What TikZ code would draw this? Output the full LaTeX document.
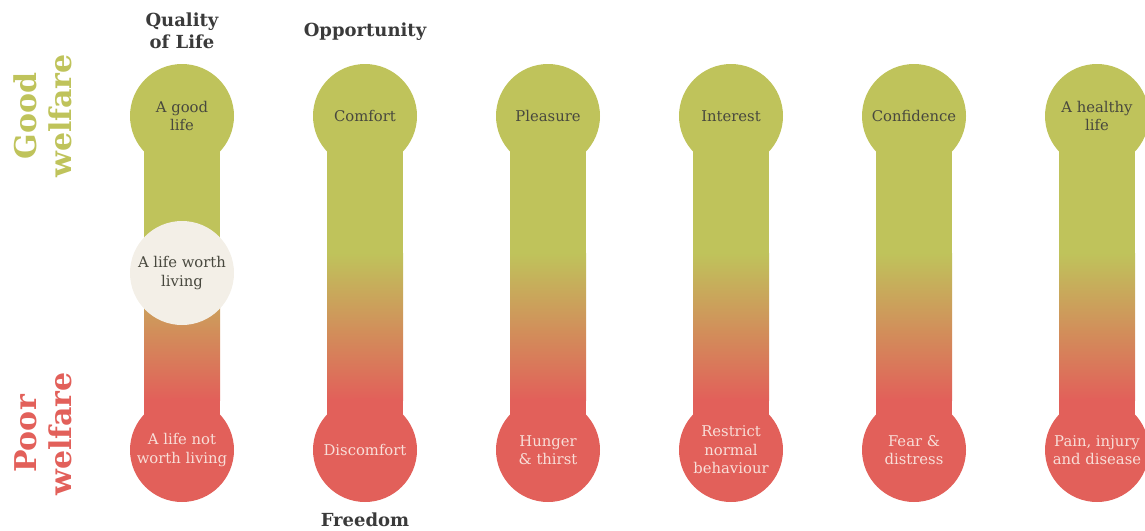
\documentclass[tikz,border=0pt]{standalone}
\usepackage{fontspec}
\setmainfont{DejaVu Serif}
\usepackage{tikz}
\usetikzlibrary{calc,positioning}
\pgfdeclarelayer{background}
\pgfsetlayers{background,main}

\definecolor{goodgreen}{RGB}{191,195,91}
\definecolor{poorred}{RGB}{226,96,90}
\definecolor{cream}{RGB}{243,239,231}
\definecolor{inkgrey}{RGB}{72,72,62}
\definecolor{headgrey}{RGB}{58,58,58}
\definecolor{paletext}{RGB}{248,222,216}

\begin{document}
\begin{tikzpicture}[x=1pt,y=-1pt,
  ball/.style={circle,minimum size=104pt,inner sep=0pt,align=center,
    font=\fontsize{14.8}{18.5}\selectfont},
  goodball/.style={ball,fill=goodgreen,text=inkgrey},
  poorball/.style={ball,fill=poorred,text=paletext},
  midball/.style={ball,fill=cream,text=inkgrey},
  heading/.style={align=center,text=headgrey,font=\fontsize{18}{22}\selectfont\bfseries},
  sidelabel/.style={rotate=90,align=center,font=\fontsize{30}{35}\selectfont\bfseries}]

  \useasboundingbox (0,0) rectangle (1145,530);
  \clip (0,0) rectangle (1145,530);

  % the six scales, good end on top, poor end below
  \foreach \x/\good/\poor [count=\i] in {
      182/{A good\\life}/{A life not\\worth living},
      365/Comfort/Discomfort,
      548/Pleasure/{Hunger\\\& thirst},
      731/Interest/{Restrict\\normal\\behaviour},
      914/Confidence/{Fear \&\\distress},
      1097/{A healthy\\life}/{Pain, injury\\and disease}}
  {
    \node[goodball] (good\i) at (\x,116) {\good};
    \node[poorball] (poor\i) at (\x,450) {\poor};
    \begin{pgfonlayer}{background}
      \fill[goodgreen] ($(good\i.center)+(-38,0)$) rectangle ($(good\i.center)+(38,138)$);
      \shade[top color=goodgreen,bottom color=poorred]
        ($(good\i.center)+(-38,137)$) rectangle ($(poor\i.center)+(38,-50)$);
      \fill[poorred] ($(poor\i.center)+(-38,-51)$) rectangle ($(poor\i.center)+(38,0)$);
    \end{pgfonlayer}
  }

  \node[midball] (worth) at (182,273) {A life worth\\living};

  \node[heading] (qol) at (182,31) {Quality\\of Life};
  \node[heading] (opp) at (365,32) {Opportunity};
  \node[heading] (free) at (365,520) {Freedom};

  \node[sidelabel,text=goodgreen] (goodside) at (43,116) {Good\\welfare};
  \node[sidelabel,text=poorred] (poorside) at (43,434) {Poor\\welfare};
\end{tikzpicture}
\end{document}
